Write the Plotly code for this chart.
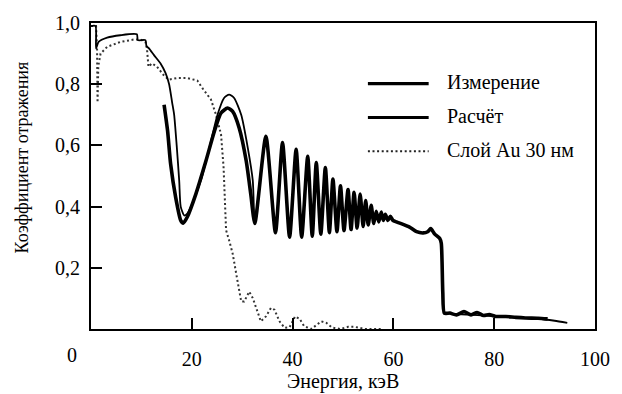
import plotly.graph_objects as go

# Energy (keV) and reflection coefficient for the measured curve
meas_energy = [14.5, 15.2, 15.8, 16.8, 17.8, 18.3, 19.1, 20.8, 22.8, 24.5, 25.8,
               27.1, 28.1, 29.4, 30.8, 31.7]
meas_refl = [0.733, 0.647, 0.539, 0.43, 0.355, 0.346, 0.366, 0.441, 0.549, 0.647,
             0.706, 0.722, 0.711, 0.657, 0.549, 0.441]

# Calculated curve, low-energy part (total reflection plateau and first fringe)
calc_energy = [0.0, 0.9, 1.0, 1.5, 3.2, 5.8, 9.1, 9.3, 10.8, 11.0, 11.5, 12.5,
               13.8, 14.8, 15.5, 16.1, 16.5, 17.0, 17.5, 17.8, 18.5, 19.1, 20.1,
               21.8, 23.5, 25.1, 26.4, 27.4, 28.4, 29.8, 31.1, 32.1]
calc_refl = [0.99, 0.99, 0.917, 0.938, 0.952, 0.96, 0.963, 0.944, 0.944, 0.925,
             0.917, 0.895, 0.868, 0.836, 0.80, 0.74, 0.70, 0.60, 0.485, 0.40,
             0.371, 0.377, 0.41, 0.485, 0.593, 0.70, 0.755, 0.766, 0.755, 0.70,
             0.593, 0.485]

# Interference fringes where measurement and calculation coincide
fringe_energy = [32.5, 34.7, 36.6, 38.0, 39.4, 40.7, 41.8, 43.0, 43.9, 44.7, 45.6,
                 46.5, 47.3, 48.0, 48.8, 49.5, 50.2, 51.0, 51.6, 52.2, 52.8, 53.4,
                 54.0, 54.5, 55.0, 55.6, 56.1, 56.6, 57.1, 57.6, 58.0, 58.4, 58.9,
                 59.4, 59.9, 60.6, 61.9, 63.2, 64.6, 65.9, 66.8, 67.4, 68.2, 69.2,
                 69.5, 69.8, 70.1]
fringe_refl = [0.345, 0.63, 0.315, 0.609, 0.30, 0.587, 0.30, 0.564, 0.303, 0.544,
               0.31, 0.528, 0.315, 0.49, 0.318, 0.468, 0.322, 0.456, 0.325, 0.447,
               0.33, 0.441, 0.335, 0.42, 0.34, 0.404, 0.345, 0.385, 0.35, 0.382,
               0.355, 0.375, 0.355, 0.368, 0.355, 0.35, 0.342, 0.333, 0.318, 0.314,
               0.318, 0.328, 0.31, 0.296, 0.28, 0.12, 0.052]

# Above the absorption edge
meas_tail_energy = [71.2, 72.5, 74.0, 75.4, 76.6, 77.9, 79.0, 80.3, 82.3, 84.3,
                    86.2, 88.7, 90.6]
meas_tail_refl = [0.052, 0.046, 0.057, 0.046, 0.054, 0.044, 0.047, 0.041, 0.041,
                  0.038, 0.036, 0.035, 0.033]
calc_tail_energy = [71.2, 75.0, 80.0, 85.0, 90.0, 92.0, 94.5]
calc_tail_refl = [0.05, 0.047, 0.042, 0.037, 0.031, 0.027, 0.02]

# Single 30 nm Au layer
au_energy = [0.0, 1.0, 1.2, 1.3, 1.45, 1.9, 3.2, 5.8, 8.5, 9.8, 10.8, 11.1, 11.4,
             12.1, 13.1, 14.4, 15.4, 17.1, 19.1, 21.1, 22.1, 23.8, 24.8, 25.8,
             26.3, 26.6, 26.8, 27.4, 28.1, 28.8, 29.4, 29.8, 30.4, 31.4, 32.1,
             33.1, 33.7, 34.7, 35.7, 36.4, 37.4, 38.4, 39.4, 40.5, 41.4, 42.3,
             43.7, 45.7, 46.7, 47.8, 49.4, 51.0, 52.3, 54.3, 58.0]
au_refl = [0.99, 0.99, 0.92, 0.74, 0.86, 0.90, 0.922, 0.938, 0.946, 0.946, 0.938,
           0.917, 0.857, 0.868, 0.857, 0.83, 0.815, 0.82, 0.82, 0.812, 0.787, 0.75,
           0.70, 0.636, 0.53, 0.42, 0.323, 0.29, 0.247, 0.182, 0.128, 0.09, 0.09,
           0.122, 0.101, 0.052, 0.025, 0.041, 0.069, 0.063, 0.025, 0.004, 0.006,
           0.041, 0.033, 0.009, 0.0, 0.025, 0.02, 0.005, 0.0, 0.007, 0.007, 0.0,
           0.0]

legend_labels = ["Измерение", "Расчёт", "Слой Au 30 нм"]
x_ticks = [20, 40, 60, 80, 100]
y_ticks = [0.2, 0.4, 0.6, 0.8, 1.0]

FONT = "Liberation Serif, Times New Roman, serif"
W, H = 622, 394
L, R, T, B = 91, 25, 21, 65
PW, PH = W - L - R, H - T - B


def px_x(p):
    return (p - L) / PW


def px_y(p):
    return (H - B - p) / PH


def serif(size):
    return dict(family=FONT, size=size, color="black")


fig = go.Figure()

fig.add_trace(go.Scatter(
    x=au_energy, y=au_refl, mode="lines", name=legend_labels[2],
    line=dict(color="#333333", width=2, dash="2px,2.6px"), showlegend=False))

fig.add_trace(go.Scatter(
    x=calc_energy + fringe_energy + calc_tail_energy,
    y=calc_refl + fringe_refl + calc_tail_refl,
    mode="lines", name=legend_labels[1],
    line=dict(color="black", width=1.8, shape="spline", smoothing=0.6),
    showlegend=False))

fig.add_trace(go.Scatter(
    x=meas_energy + fringe_energy + meas_tail_energy,
    y=meas_refl + fringe_refl + meas_tail_refl,
    mode="lines", name=legend_labels[0],
    line=dict(color="black", width=3.6, shape="spline", smoothing=0.6),
    showlegend=False))

axis_common = dict(
    showline=True, linecolor="black", linewidth=2, mirror=True,
    ticks="inside", ticklen=11, tickwidth=1.6, tickcolor="black",
    showgrid=False, zeroline=False, tickfont=serif(20),
)

fig.update_xaxes(range=[0, 100], tickvals=x_ticks, ticklabelstandoff=11,
                 **axis_common)
fig.update_yaxes(range=[0, 1.0], tickvals=y_ticks, tickformat=".1f",
                 ticklabelstandoff=5, **axis_common)

# Hand-drawn legend: sample lines plus labels
legend_rows = [82, 116, 150]
legend_styles = [dict(color="black", width=3.2),
                 dict(color="black", width=3.0),
                 dict(color="#222222", width=2, dash="2px,2.6px")]
for label, row, style in zip(legend_labels, legend_rows, legend_styles):
    fig.add_shape(type="line", xref="paper", yref="paper",
                  x0=px_x(369), x1=px_x(430), y0=px_y(row), y1=px_y(row),
                  line=style)
    fig.add_annotation(text=label, xref="paper", yref="paper",
                       x=px_x(446), y=px_y(row - 1), xanchor="left",
                       yanchor="middle", showarrow=False, font=serif(20))

# Origin label and axis titles
fig.add_annotation(text="0", xref="paper", yref="paper", x=px_x(72),
                   y=px_y(355), showarrow=False, xanchor="center",
                   yanchor="middle", font=serif(20))
fig.add_annotation(text="Энергия, кэВ", xref="paper", yref="paper", x=0.5,
                   y=px_y(382), showarrow=False, xanchor="center",
                   yanchor="middle", font=serif(20))
fig.add_annotation(text="Коэффициент отражения", xref="paper", yref="paper",
                   x=px_x(22), y=px_y(156), textangle=-90, showarrow=False,
                   xanchor="center", yanchor="middle", font=serif(18))

fig.update_layout(
    width=W, height=H,
    margin=dict(l=L, r=R, t=T, b=B),
    paper_bgcolor="white", plot_bgcolor="white",
    separators=", ",
    showlegend=False,
)

fig.write_html("out.html")
